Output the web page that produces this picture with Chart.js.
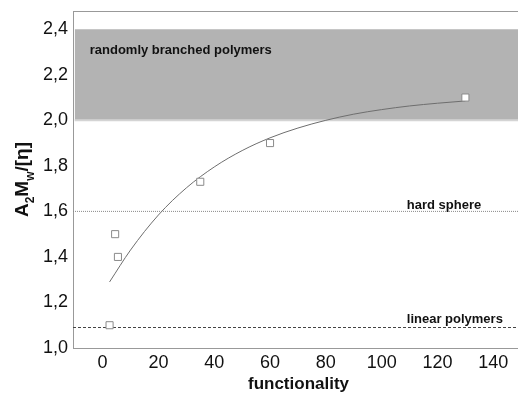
<!DOCTYPE html>
<html>
<head>
<meta charset="utf-8">
<script src="https://cdn.jsdelivr.net/npm/chart.js@4.4.0/dist/chart.umd.min.js"></script>
<style>
  html, body { margin: 0; padding: 0; background: #fff; overflow: hidden; }
  #wrap { width: 530px; height: 393px; }
</style>
</head>
<body>
<div id="wrap"><canvas id="chart"></canvas></div>
<script>
// measured points
var funcX = [2.5, 4.5, 5.5, 35, 60, 130];
var ratioY = [1.1, 1.5, 1.4, 1.73, 1.9, 2.1];

// fitted curve
var fitX = [2.5, 10, 20, 30, 40, 50, 60, 70, 80, 90, 100, 110, 120, 130];
var fitY = [1.29, 1.43, 1.584, 1.703, 1.795, 1.867, 1.923, 1.966, 2.0, 2.027, 2.047, 2.063, 2.075, 2.085];

// reference levels
var bandTop = 2.4;
var bandBottom = 2.0;
var hardSphere = 1.6;
var linearLevel = 1.09;

var xMin = -10.6, xMax = 151;
var yMin = 1.0, yMax = 2.48;
var xTicks = [0, 20, 40, 60, 80, 100, 120, 140];
var yTicks = [1.0, 1.2, 1.4, 1.6, 1.8, 2.0, 2.2, 2.4];

var notes = [
    { text: 'randomly branched polymers', x: -4.6, y: 2.29 },
    { text: 'hard sphere', x: 109, y: 1.61 },
    { text: 'linear polymers', x: 109, y: 1.11 }
];

function toPoints(xs, ys) {
    return xs.map(function (x, i) { return { x: x, y: ys[i] }; });
}

function level(y, x0) {
    return [{ x: x0, y: y }, { x: xMax, y: y }];
}

const textPlugin = {
    id: 'texts',
    afterDraw: function (chart) {
        const ctx = chart.ctx;
        const area = chart.chartArea;
        const xs = chart.scales.x, ys = chart.scales.y;

        // top frame line
        ctx.save();
        ctx.strokeStyle = '#999';
        ctx.lineWidth = 1;
        ctx.beginPath();
        ctx.moveTo(area.left, area.top + 0.5);
        ctx.lineTo(area.right, area.top + 0.5);
        ctx.stroke();

        ctx.fillStyle = '#111';
        ctx.textBaseline = 'alphabetic';
        ctx.font = 'bold 13px "Liberation Sans", Arial, sans-serif';
        ctx.textAlign = 'left';
        notes.forEach(function (n) {
            ctx.fillText(n.text, xs.getPixelForValue(n.x), ys.getPixelForValue(n.y));
        });

        // x title
        ctx.font = 'bold 17px "Liberation Sans", Arial, sans-serif';
        ctx.textAlign = 'center';
        ctx.fillText('functionality', (area.left + area.right) / 2, 389);

        // y title with subscripts
        var parts = [
            { t: 'A', sub: false }, { t: '2', sub: true },
            { t: 'M', sub: false }, { t: 'w', sub: true },
            { t: '/[η]', sub: false }
        ];
        var mainFont = 'bold 19px "Liberation Sans", Arial, sans-serif';
        var subFont = 'bold 12px "Liberation Sans", Arial, sans-serif';
        var total = 0;
        parts.forEach(function (p) {
            ctx.font = p.sub ? subFont : mainFont;
            p.w = ctx.measureText(p.t).width;
            total += p.w;
        });
        ctx.translate(21, (area.top + area.bottom) / 2);
        ctx.rotate(-Math.PI / 2);
        ctx.textAlign = 'left';
        var cx = -total / 2;
        parts.forEach(function (p) {
            ctx.font = p.sub ? subFont : mainFont;
            ctx.fillText(p.t, cx, p.sub ? 13 : 7);
            cx += p.w;
        });
        ctx.restore();
    }
};

const data = {
    datasets: [
        {
            label: 'data',
            data: toPoints(funcX, ratioY),
            showLine: false,
            pointStyle: 'rect',
            pointRadius: 5,
            pointBorderWidth: 1,
            pointBorderColor: '#8a8a8a',
            pointBackgroundColor: '#fff'
        },
        {
            label: 'fit',
            data: toPoints(fitX, fitY),
            showLine: true,
            borderColor: '#6e6e6e',
            borderWidth: 1,
            pointRadius: 0,
            cubicInterpolationMode: 'monotone'
        },
        {
            label: 'linear polymers',
            data: level(linearLevel, xMin),
            showLine: true,
            borderColor: '#444',
            borderWidth: 1,
            borderDash: [3, 2],
            pointRadius: 0
        },
        {
            label: 'hard sphere',
            data: level(hardSphere, xMin),
            showLine: true,
            borderColor: '#8a8a8a',
            borderWidth: 1,
            borderDash: [1, 1],
            pointRadius: 0
        },
        {
            label: 'band edge',
            data: level(bandBottom, -10),
            showLine: true,
            borderColor: '#d4d4d4',
            borderWidth: 2,
            pointRadius: 0
        },
        {
            label: 'randomly branched',
            data: level(bandTop, -10),
            showLine: true,
            borderWidth: 0,
            borderColor: 'rgba(0,0,0,0)',
            backgroundColor: '#b3b3b3',
            fill: { value: bandBottom },
            pointRadius: 0
        }
    ]
};

const config = {
    type: 'scatter',
    data: data,
    options: {
        responsive: true,
        maintainAspectRatio: false,
        animation: false,
        layout: { padding: { top: 11, left: 0, right: 0, bottom: 0 } },
        plugins: {
            legend: { display: false },
            tooltip: { enabled: false }
        },
        scales: {
            x: {
                type: 'linear',
                min: xMin,
                max: xMax,
                afterBuildTicks: function (s) { s.ticks = xTicks.map(function (v) { return { value: v }; }); },
                afterFit: function (s) { s.height = 45; s.paddingLeft = 0; s.paddingRight = 0; },
                grid: { display: false, drawTicks: false },
                border: { display: true, color: '#999' },
                ticks: {
                    padding: 4,
                    maxRotation: 0,
                    color: '#111',
                    font: { family: '"Liberation Sans", Arial, sans-serif', size: 18 }
                }
            },
            y: {
                type: 'linear',
                min: yMin,
                max: yMax,
                afterBuildTicks: function (s) { s.ticks = yTicks.map(function (v) { return { value: v }; }); },
                afterFit: function (s) { s.width = 73; s.paddingTop = 0; s.paddingBottom = 0; },
                grid: { display: false, drawTicks: false },
                border: { display: true, color: '#999' },
                ticks: {
                    padding: 5,
                    color: '#111',
                    font: { family: '"Liberation Sans", Arial, sans-serif', size: 18 },
                    callback: function (v) { return v.toFixed(1).replace('.', ','); }
                }
            }
        }
    },
    plugins: [textPlugin]
};

const chart = new Chart(document.getElementById('chart'), config);
</script>
</body>
</html>
